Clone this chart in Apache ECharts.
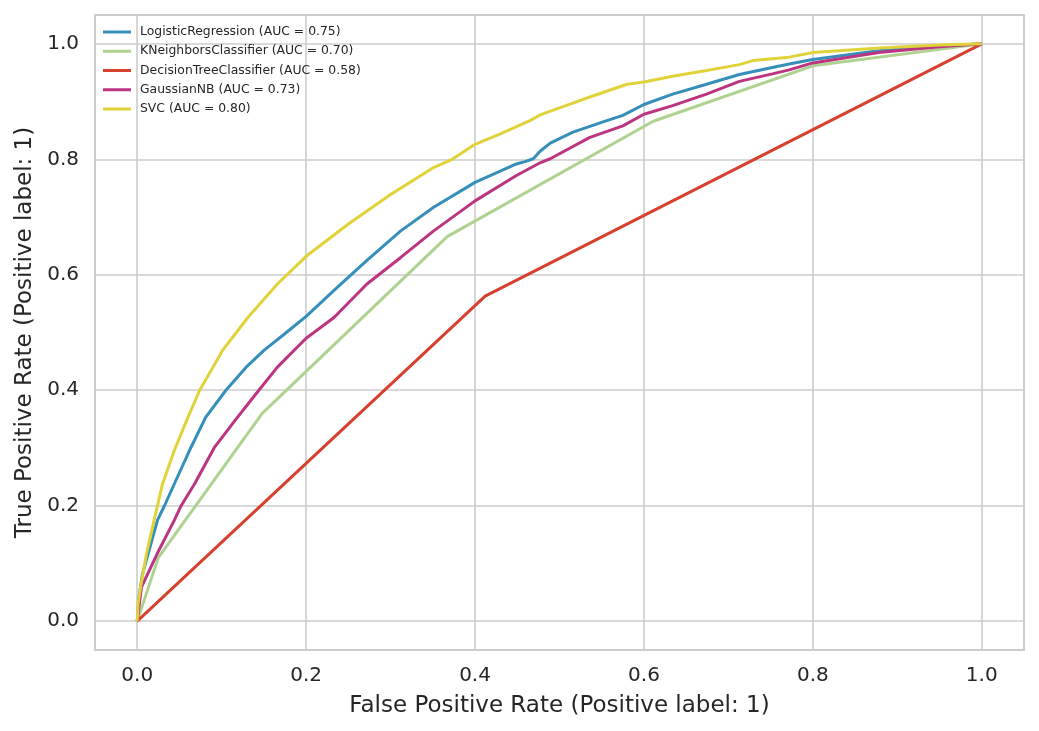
<!DOCTYPE html>
<html>
<head>
<meta charset="utf-8">
<script src="https://cdn.jsdelivr.net/npm/echarts@6/dist/echarts.min.js"></script>
<style>
  html, body { margin: 0; padding: 0; background: #fff; }
  #chart { width: 1039px; height: 731px; }
</style>
</head>
<body>
<div id="chart"></div>
<script>
// ROC curves, [fpr, tpr] pairs
var lrPoints = [[0,0],[0.002,0.04],[0.006,0.08],[0.013,0.117],[0.024,0.175],[0.032,0.199],[0.044,0.238],
  [0.062,0.296],[0.081,0.353],[0.105,0.4],[0.129,0.44],[0.150,0.469],[0.174,0.497],[0.2,0.528],
  [0.233,0.573],[0.272,0.625],[0.312,0.676],[0.351,0.717],[0.4,0.760],[0.449,0.792],[0.459,0.796],
  [0.469,0.801],[0.477,0.814],[0.489,0.828],[0.516,0.847],[0.556,0.867],[0.575,0.876],[0.6,0.895],
  [0.634,0.913],[0.674,0.930],[0.713,0.947],[0.752,0.959],[0.772,0.965],[0.8,0.973],[0.878,0.988],
  [0.95,0.996],[1,1]];
var knnPoints = [[0,0],[0.025,0.11],[0.148,0.36],[0.367,0.666],[0.611,0.866],[0.8,0.962],[1,1]];
var dtPoints = [[0,0],[0.412,0.563],[1,1]];
var nbPoints = [[0,0],[0.005,0.059],[0.024,0.118],[0.044,0.175],[0.052,0.2],[0.068,0.238],[0.091,0.3],
  [0.117,0.35],[0.144,0.4],[0.166,0.44],[0.2,0.49],[0.233,0.526],[0.272,0.584],[0.312,0.630],
  [0.351,0.676],[0.4,0.728],[0.449,0.772],[0.477,0.794],[0.489,0.801],[0.536,0.838],[0.575,0.858],
  [0.6,0.878],[0.634,0.893],[0.674,0.913],[0.713,0.935],[0.752,0.948],[0.772,0.955],[0.8,0.967],
  [0.878,0.985],[0.95,0.995],[1,1]];
var svcPoints = [[0,0],[0.001,0.03],[0.004,0.059],[0.011,0.117],[0.020,0.175],[0.024,0.2],[0.030,0.238],
  [0.044,0.296],[0.060,0.353],[0.074,0.4],[0.101,0.469],[0.131,0.526],[0.166,0.584],[0.2,0.632],
  [0.25,0.688],[0.3,0.739],[0.35,0.785],[0.373,0.8],[0.4,0.826],[0.43,0.844],[0.465,0.867],
  [0.477,0.877],[0.5,0.889],[0.536,0.908],[0.58,0.930],[0.6,0.934],[0.634,0.944],[0.674,0.954],
  [0.713,0.964],[0.729,0.971],[0.772,0.977],[0.8,0.985],[0.879,0.993],[0.95,0.998],[1,1]];

var names = ['LogisticRegression (AUC = 0.75)', 'KNeighborsClassifier (AUC = 0.70)',
  'DecisionTreeClassifier (AUC = 0.58)', 'GaussianNB (AUC = 0.73)', 'SVC (AUC = 0.80)'];
var colors = ['#358fba', '#afd291', '#d7402f', '#bb3580', '#e0d33a'];
var tickValues = [0, 0.2, 0.4, 0.6, 0.8, 1.0];

(function() {
  var myChart = echarts.init(document.getElementById('chart'));
  var txt = '#262626';
  var grid = '#cccccc';

  function axis(name, gap) {
    return {
      type: 'value',
      min: -0.05,
      max: 1.05,
      name: name,
      nameLocation: 'middle',
      nameGap: gap,
      nameTextStyle: { color: txt, fontSize: 23, fontFamily: 'DejaVu Sans' },
      axisLine: { show: false },
      axisTick: { show: false, customValues: tickValues },
      axisLabel: {
        customValues: tickValues,
        color: txt,
        fontSize: 20,
        fontFamily: 'DejaVu Sans',
        margin: 16,
        formatter: function(v) { return v.toFixed(1); }
      },
      splitLine: { show: true, lineStyle: { color: grid, width: 1.6 } }
    };
  }

  var data = [lrPoints, knnPoints, dtPoints, nbPoints, svcPoints];
  var series = [];
  for (var i = 0; i < data.length; i++) {
    series.push({
      name: names[i],
      type: 'line',
      data: data[i],
      showSymbol: false,
      symbol: 'none',
      lineStyle: { color: colors[i], width: 3 },
      itemStyle: { color: colors[i] }
    });
  }

  var option = {
    animation: false,
    color: colors,
    grid: {
      left: 95, top: 15, right: 15, bottom: 81,
      show: true,
      borderColor: grid,
      borderWidth: 2,
      backgroundColor: '#fff'
    },
    legend: {
      orient: 'vertical',
      left: 103,
      top: 25,
      padding: 0,
      icon: 'rect',
      itemWidth: 28,
      itemHeight: 3,
      itemGap: 5.25,
      textStyle: { color: txt, fontSize: 12.4, fontFamily: 'DejaVu Sans', lineHeight: 14, padding: [0, 0, 0, 4] },
      data: names
    },
    xAxis: axis('False Positive Rate (Positive label: 1)', 45),
    yAxis: axis('True Positive Rate (Positive label: 1)', 57),
    series: series
  };

  myChart.setOption(option);
  window.addEventListener('resize', function() {
    myChart.resize();
  });
})();
</script>
</body>
</html>
